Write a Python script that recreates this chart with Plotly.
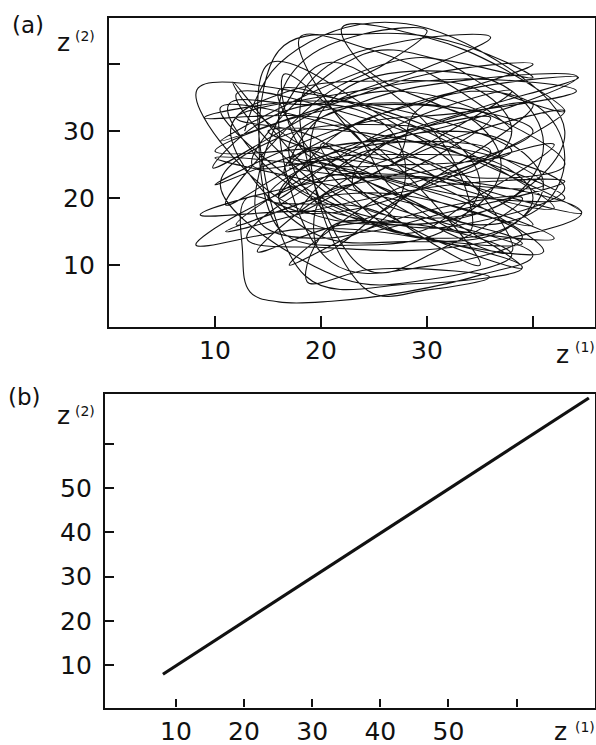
import plotly.graph_objects as go

# ---------------- data ----------------
# Panel (a): chaotic trajectory z(1) vs z(2), hand-read waypoints (z1, z2)
path_a_1 = [
    (12.8, 30), (16, 40), (25, 46.2), (35, 42), (43, 30), (38, 20), (27, 16), (16, 20),
    (8.3, 36.2), (19.2, 35.5), (30.1, 30.7), (41, 22), (30.1, 22.7), (19.2, 27.5),
    (17, 25), (20, 32), (27, 34), (34, 32), (37, 25), (34, 18), (27, 16), (20, 18),
    (8.6, 17.5), (20.6, 22.6), (32.6, 22.7), (44.6, 17.8), (32.6, 12.7), (20.6, 12.6),
    (13, 14), (22, 24.7), (31, 31.3), (40, 34), (31, 23.3), (22, 16.7),
    (17, 28), (24, 34.4), (34.1, 37.7), (44.2, 38.1), (34.1, 31.7), (24, 28.4),
    (10, 27), (20, 33), (30, 34), (40, 30), (30, 24), (20, 23),
    (8.2, 13), (18.5, 15.4), (28.7, 14.2), (39, 9.6), (28.7, 7.2), (18.5, 8.4),
]
path_a_2 = [
    (15, 40), (26, 32), (33.5, 23.5), (38, 12), (27, 19), (19.5, 29),
    (12, 32), (22.7, 35.8), (33.4, 37.8), (44.1, 36), (33.4, 32.8), (22.7, 30.8),
    (10, 22), (21, 27.8), (32, 27.7), (43, 21.5), (32, 15.7), (21, 15.8),
    (18.7, 7.5), (24.4, 9.3), (30.1, 9.4), (35.9, 8.2), (30.1, 6.3), (24.4, 6.2),
    (19, 28), (22, 36), (30, 39), (38, 36), (41, 28), (38, 20), (30, 17), (22, 20),
    (11.7, 37.3), (13, 34), (18, 28), (25, 22), (32, 17), (38, 14.2), (39, 13.2),
    (35, 13), (27, 15), (19, 20), (13.5, 27), (11.3, 34),
    (19, 34), (27, 36), (35, 33), (43, 25), (35, 23), (27, 26),
]
path_a_3 = [
    (14, 12), (22, 16), (30, 15.8), (38, 11.5), (30, 7.8), (22, 8),
    (10.5, 22), (16, 29), (24, 31), (32, 29), (35, 22), (32, 15.5), (24, 13), (16, 15.5),
    (16, 42), (24, 44.5), (32, 43.5), (40, 38), (32, 40.5), (24, 41.5),
    (13.5, 25), (22.7, 25.7), (31.8, 21.3), (41, 12), (31.8, 13.3), (22.7, 17.7),
    (16.5, 24), (22, 30), (33, 36), (44.3, 38), (34, 33), (23, 27),
    (12, 16), (21, 20.4), (30, 19.8), (39, 14.2), (30, 9.8), (21, 10.4),
    (16, 32.5), (18, 40), (24, 44.5), (30, 45), (26, 40), (20, 35),
    (11, 19), (19, 25.7), (27.7, 28.4), (36, 27), (27.7, 20.4), (19, 17.7),
]
path_a_4 = [
    (13, 20), (12.6, 12), (13.3, 6), (16, 4.5), (21, 4.6), (28, 6), (35, 8.5), (40, 11.5),
    (23, 22), (26, 28), (32, 30), (38, 28), (41, 22), (38, 16), (32, 14), (26, 16),
    (16, 36), (24.7, 33.2), (33.3, 27.3), (42, 18.5), (33.3, 21.3), (24.7, 27.2),
    (18, 18), (26, 24.5), (34.5, 30), (43, 33), (35, 25.5), (26, 20.5),
    (17, 10), (24.3, 15.3), (31.7, 18.7), (39, 20), (31.7, 12.7), (24.3, 9.3),
    (18, 33), (20, 39), (28, 43.5), (36, 44), (30, 39.5), (22, 35),
    (9.8, 24.5), (14, 31), (20, 34), (26, 31), (28, 24), (26, 17), (20, 14), (14, 17),
    (20, 40), (28, 34), (33, 24), (34, 15), (27, 21), (22, 31),
    (9, 32), (18.7, 34.5), (28.3, 32.8), (38, 27), (28.3, 25), (18.7, 26.5),
    (16.5, 38.5), (22, 32), (29, 22), (35, 10), (27, 17), (20, 28),
    (27, 26), (29, 33), (35, 36), (41, 33), (43, 26), (41, 19), (35, 16), (29, 19),
]
path_a_5 = [
    (10, 26), (20.7, 24.5), (31.3, 20.5), (42, 14), (31.3, 15.5), (20.7, 19.5),
    (10.5, 33.5), (22, 30.5), (31, 24.5), (40, 16), (31, 19.5), (22, 25.5),
    (15, 30), (24.3, 29.7), (33.7, 26.3), (43, 20), (33.7, 20.3), (24.3, 23.7),
    (17, 26), (24.3, 22.5), (31.7, 17.1), (39, 9.6), (31.7, 13.1), (24.3, 18.5),
    (15, 20), (20, 26), (28, 30), (36, 32), (28, 24), (20, 20),
    (20, 12), (27.3, 19.8), (34.7, 25.2), (42, 28), (34.7, 20.2), (27.3, 14.8),
    (12, 35.5), (24.2, 31.9), (34.4, 25.7), (44.6, 17.8), (34.4, 21.7), (24.2, 27.9),
]
path_a_6 = [
    (18, 44), (25, 42), (31.5, 37.5), (38, 30), (31, 34), (24.5, 39),
    (22, 45.5), (30, 44), (37, 39.5), (43, 33), (36.5, 36), (29.5, 41),
    (10.5, 28.5), (21, 34), (30, 38.5), (40, 40), (31, 35), (22, 30),
    (16, 20), (23, 27.5), (30.5, 33), (38, 36), (31, 29), (23.5, 22.5),
    (11, 15), (21.7, 19), (32.3, 22), (43, 22.5), (32.3, 18), (21.7, 15),
    (16, 20), (19, 25), (28, 26.5), (37, 25), (40, 20), (37, 15), (28, 13.5), (19, 15),
    (11.5, 30.5), (17, 36), (26, 37.5), (35, 36), (38, 30), (35, 24.5), (26, 23), (17, 24.5),
]

# Panel (b): synchronized state, z(2) = z(1)
z1_b = [8.1, 70.6]
z2_b = [8.0, 70.3]

# ticks
ticks_a = [10, 20, 30, 40]
ticklabels_a = ["10", "20", "30", ""]
ticks_b = [10, 20, 30, 40, 50, 60]
ticklabels_b = ["10", "20", "30", "40", "50", ""]

# ---------------- figure ----------------
pts = path_a_1 + path_a_2 + path_a_3 + path_a_4 + path_a_5 + path_a_6
z1_a = [p[0] for p in pts]
z2_a = [p[1] for p in pts]

FONT = "DejaVu Sans, sans-serif"
INK = "#111111"

fig = go.Figure()
fig.add_trace(go.Scatter(
    x=z1_a, y=z2_a, mode="lines",
    line=dict(color=INK, width=1.1, shape="spline", smoothing=1.1),
    xaxis="x", yaxis="y", showlegend=False, hoverinfo="skip"))
fig.add_trace(go.Scatter(
    x=z1_b, y=z2_b, mode="lines",
    line=dict(color=INK, width=3.2),
    xaxis="x2", yaxis="y2", showlegend=False, hoverinfo="skip"))

axis_common = dict(
    showline=True, linecolor=INK, linewidth=2.2, mirror=True,
    ticks="inside", tickcolor=INK, tickwidth=2,
    showgrid=False, zeroline=False,
    tickfont=dict(family=FONT, size=25, color=INK),
)

fig.update_layout(
    width=596, height=745,
    margin=dict(l=0, r=0, t=0, b=0),
    paper_bgcolor="white", plot_bgcolor="white",
    xaxis=dict(domain=[109 / 596, 595 / 596], range=[0, 45.85],
               tickvals=ticks_a, ticktext=ticklabels_a, ticklen=11,
               anchor="y", **axis_common),
    yaxis=dict(domain=[(745 - 327) / 745, (745 - 18) / 745], range=[0.75, 46.9],
               tickvals=ticks_a, ticktext=ticklabels_a, ticklen=11,
               ticklabelstandoff=7, anchor="x", **axis_common),
    xaxis2=dict(domain=[105 / 596, 595 / 596], range=[-0.4, 71.5],
                tickvals=ticks_b, ticktext=ticklabels_b, ticklen=8,
                anchor="y2", **axis_common),
    yaxis2=dict(domain=[(745 - 707.5) / 745, (745 - 394) / 745], range=[0.5, 71.2],
                tickvals=ticks_b, ticktext=ticklabels_b, ticklen=9,
                ticklabelstandoff=6, anchor="x2", **axis_common),
)


def px_annot(text, cx, cy, size):
    fig.add_annotation(
        text=text, x=cx / 596, y=(745 - cy) / 745, xref="paper", yref="paper",
        xanchor="center", yanchor="middle", showarrow=False,
        font=dict(family=FONT, size=size, color=INK))


px_annot("(a)", 28, 25, 23)
px_annot("z", 63.5, 43, 25)
px_annot("(2)", 84.5, 35.5, 14)
px_annot("z", 562, 354, 25)
px_annot("(1)", 585, 347, 14)

px_annot("(b)", 24.5, 397, 23)
px_annot("z", 63.5, 416, 25)
px_annot("(2)", 84.5, 410.5, 14)
px_annot("z", 560, 731, 25)
px_annot("(1)", 585, 727, 14)

fig.write_html("out.html")
